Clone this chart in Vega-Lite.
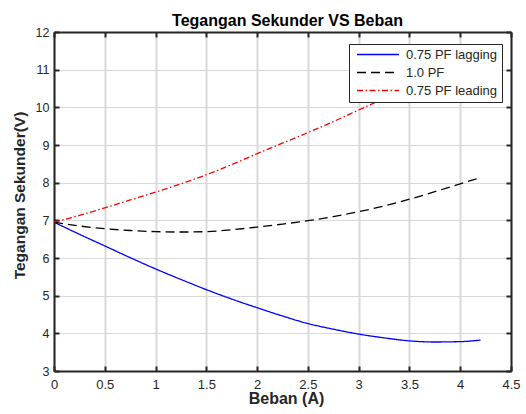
{
  "$schema": "https://vega.github.io/schema/vega-lite/v6.json",
  "autosize": "none",
  "width": 457,
  "height": 339,
  "padding": {"left": 54, "top": 32, "right": 15, "bottom": 43},
  "background": "white",
  "title": {
    "text": "Tegangan Sekunder VS Beban",
    "anchor": "middle",
    "frame": "group",
    "baseline": "alphabetic",
    "offset": 6,
    "dx": 5,
    "dy": 22,
    "font": "Liberation Sans",
    "fontSize": 16,
    "fontWeight": "bold",
    "color": "#000000"
  },
  "config": {
    "view": {"stroke": null},
    "font": "Liberation Sans"
  },
  "data": {
    "values": [
      {"x": 0, "v": 6.95, "s": "0.75 PF lagging"},
      {"x": 0.25, "v": 6.63, "s": "0.75 PF lagging"},
      {"x": 0.5, "v": 6.32, "s": "0.75 PF lagging"},
      {"x": 0.75, "v": 6.01, "s": "0.75 PF lagging"},
      {"x": 1, "v": 5.71, "s": "0.75 PF lagging"},
      {"x": 1.25, "v": 5.43, "s": "0.75 PF lagging"},
      {"x": 1.5, "v": 5.16, "s": "0.75 PF lagging"},
      {"x": 1.75, "v": 4.91, "s": "0.75 PF lagging"},
      {"x": 2, "v": 4.68, "s": "0.75 PF lagging"},
      {"x": 2.25, "v": 4.46, "s": "0.75 PF lagging"},
      {"x": 2.5, "v": 4.26, "s": "0.75 PF lagging"},
      {"x": 2.75, "v": 4.11, "s": "0.75 PF lagging"},
      {"x": 3, "v": 3.98, "s": "0.75 PF lagging"},
      {"x": 3.25, "v": 3.88, "s": "0.75 PF lagging"},
      {"x": 3.5, "v": 3.8, "s": "0.75 PF lagging"},
      {"x": 3.75, "v": 3.77, "s": "0.75 PF lagging"},
      {"x": 4, "v": 3.78, "s": "0.75 PF lagging"},
      {"x": 4.2, "v": 3.82, "s": "0.75 PF lagging"},
      {"x": 0, "v": 6.95, "s": "1.0 PF"},
      {"x": 0.25, "v": 6.85, "s": "1.0 PF"},
      {"x": 0.5, "v": 6.78, "s": "1.0 PF"},
      {"x": 0.75, "v": 6.73, "s": "1.0 PF"},
      {"x": 1, "v": 6.7, "s": "1.0 PF"},
      {"x": 1.25, "v": 6.69, "s": "1.0 PF"},
      {"x": 1.5, "v": 6.7, "s": "1.0 PF"},
      {"x": 1.75, "v": 6.75, "s": "1.0 PF"},
      {"x": 2, "v": 6.82, "s": "1.0 PF"},
      {"x": 2.25, "v": 6.9, "s": "1.0 PF"},
      {"x": 2.5, "v": 6.99, "s": "1.0 PF"},
      {"x": 2.75, "v": 7.1, "s": "1.0 PF"},
      {"x": 3, "v": 7.23, "s": "1.0 PF"},
      {"x": 3.25, "v": 7.38, "s": "1.0 PF"},
      {"x": 3.5, "v": 7.56, "s": "1.0 PF"},
      {"x": 3.75, "v": 7.76, "s": "1.0 PF"},
      {"x": 4, "v": 7.97, "s": "1.0 PF"},
      {"x": 4.2, "v": 8.13, "s": "1.0 PF"},
      {"x": 0, "v": 6.95, "s": "0.75 PF leading"},
      {"x": 0.25, "v": 7.13, "s": "0.75 PF leading"},
      {"x": 0.5, "v": 7.33, "s": "0.75 PF leading"},
      {"x": 0.75, "v": 7.54, "s": "0.75 PF leading"},
      {"x": 1, "v": 7.75, "s": "0.75 PF leading"},
      {"x": 1.25, "v": 7.97, "s": "0.75 PF leading"},
      {"x": 1.5, "v": 8.21, "s": "0.75 PF leading"},
      {"x": 1.75, "v": 8.48, "s": "0.75 PF leading"},
      {"x": 2, "v": 8.77, "s": "0.75 PF leading"},
      {"x": 2.25, "v": 9.05, "s": "0.75 PF leading"},
      {"x": 2.5, "v": 9.33, "s": "0.75 PF leading"},
      {"x": 2.75, "v": 9.62, "s": "0.75 PF leading"},
      {"x": 3, "v": 9.93, "s": "0.75 PF leading"},
      {"x": 3.25, "v": 10.24, "s": "0.75 PF leading"},
      {"x": 3.5, "v": 10.57, "s": "0.75 PF leading"},
      {"x": 3.75, "v": 10.9, "s": "0.75 PF leading"},
      {"x": 4, "v": 11.25, "s": "0.75 PF leading"},
      {"x": 4.2, "v": 11.53, "s": "0.75 PF leading"}
    ]
  },
  "resolve": {"axis": {"x": "independent", "y": "independent"}},
  "layer": [
    {
      "mark": {"type": "line", "interpolate": "monotone", "strokeWidth": 1.3},
      "encoding": {
        "x": {
          "field": "x", "type": "quantitative",
          "scale": {"domain": [0, 4.5], "nice": false, "zero": false},
          "axis": {
            "orient": "bottom",
            "title": "Beban (A)",
            "values": [0, 0.5, 1, 1.5, 2, 2.5, 3, 3.5, 4, 4.5],
            "format": "~g",
            "labelFont": "Liberation Sans", "labelFontSize": 13, "labelColor": "#262626",
            "labelPadding": 12, "labelFlush": false, "labelOverlap": false,
            "tickSize": -5, "tickWidth": 2, "tickColor": "#262626",
            "domainColor": "#262626", "domainWidth": 2,
            "grid": true, "gridColor": "#d9d9d9", "gridWidth": 2,
            "titleFont": "Liberation Sans", "titleFontSize": 16, "titleFontWeight": "bold", "titleColor": "#262626",
            "titleBaseline": "alphabetic", "titleAlign": "center", "titleX": 232, "titleY": 32.5
          }
        },
        "y": {
          "field": "v", "type": "quantitative",
          "scale": {"domain": [3, 12], "nice": false, "zero": false},
          "axis": {
            "orient": "left",
            "title": "Tegangan Sekunder(V)",
            "values": [3, 4, 5, 6, 7, 8, 9, 10, 11, 12],
            "format": "d",
            "labelFont": "Liberation Sans", "labelFontSize": 12.5, "labelColor": "#262626",
            "labelPadding": 10, "labelFlush": false, "labelOverlap": false,
            "tickSize": -5, "tickWidth": 2, "tickColor": "#262626",
            "domainColor": "#262626", "domainWidth": 2,
            "grid": true, "gridColor": "#d9d9d9", "gridWidth": 1,
            "titleFont": "Liberation Sans", "titleFontSize": 15.5, "titleFontWeight": "bold", "titleColor": "#262626",
            "titleBaseline": "alphabetic", "titleAlign": "center", "titleAngle": -90, "titleX": -30, "titleY": 163
          }
        },
        "color": {
          "field": "s", "type": "nominal",
          "scale": {"domain": ["0.75 PF lagging", "1.0 PF", "0.75 PF leading"], "range": ["#0000ff", "#000000", "#ff0000"]},
          "legend": {
            "title": null,
            "orient": "none",
            "legendX": 295,
            "legendY": 12,
            "fillColor": "white",
            "strokeColor": "#262626",
            "padding": 4,
            "symbolType": "stroke",
            "symbolSize": 1764,
            "symbolStrokeWidth": 1.6,
            "symbolOffset": 3,
            "labelOffset": 6,
            "labelFont": "Liberation Sans",
            "labelFontSize": 13,
            "labelColor": "#262626",
            "rowPadding": 4,
            "clipHeight": 13
          }
        },
        "strokeDash": {
          "field": "s", "type": "nominal",
          "scale": {"domain": ["0.75 PF lagging", "1.0 PF", "0.75 PF leading"], "range": [[1, 0], [9, 5], [6, 2.5, 1.5, 2.5]]},
          "legend": {
            "title": null,
            "orient": "none",
            "legendX": 295,
            "legendY": 12,
            "fillColor": "white",
            "strokeColor": "#262626",
            "padding": 4,
            "symbolType": "stroke",
            "symbolSize": 1764,
            "symbolStrokeWidth": 1.6,
            "symbolOffset": 3,
            "labelOffset": 6,
            "labelFont": "Liberation Sans",
            "labelFontSize": 13,
            "labelColor": "#262626",
            "rowPadding": 4,
            "clipHeight": 13
          }
        }
      }
    },
    {
      "mark": {"type": "point", "opacity": 0},
      "encoding": {
        "x": {
          "field": "x", "type": "quantitative",
          "axis": {
            "orient": "top", "title": null, "labels": false, "grid": false,
            "values": [0, 0.5, 1, 1.5, 2, 2.5, 3, 3.5, 4, 4.5],
            "tickSize": -5, "tickWidth": 2, "tickColor": "#262626",
            "domainColor": "#262626", "domainWidth": 2
          }
        },
        "y": {
          "field": "v", "type": "quantitative",
          "axis": {
            "orient": "right", "title": null, "labels": false, "grid": false,
            "values": [3, 4, 5, 6, 7, 8, 9, 10, 11, 12],
            "tickSize": -5, "tickWidth": 2, "tickColor": "#262626",
            "domainColor": "#262626", "domainWidth": 2
          }
        }
      }
    }
  ]
}
